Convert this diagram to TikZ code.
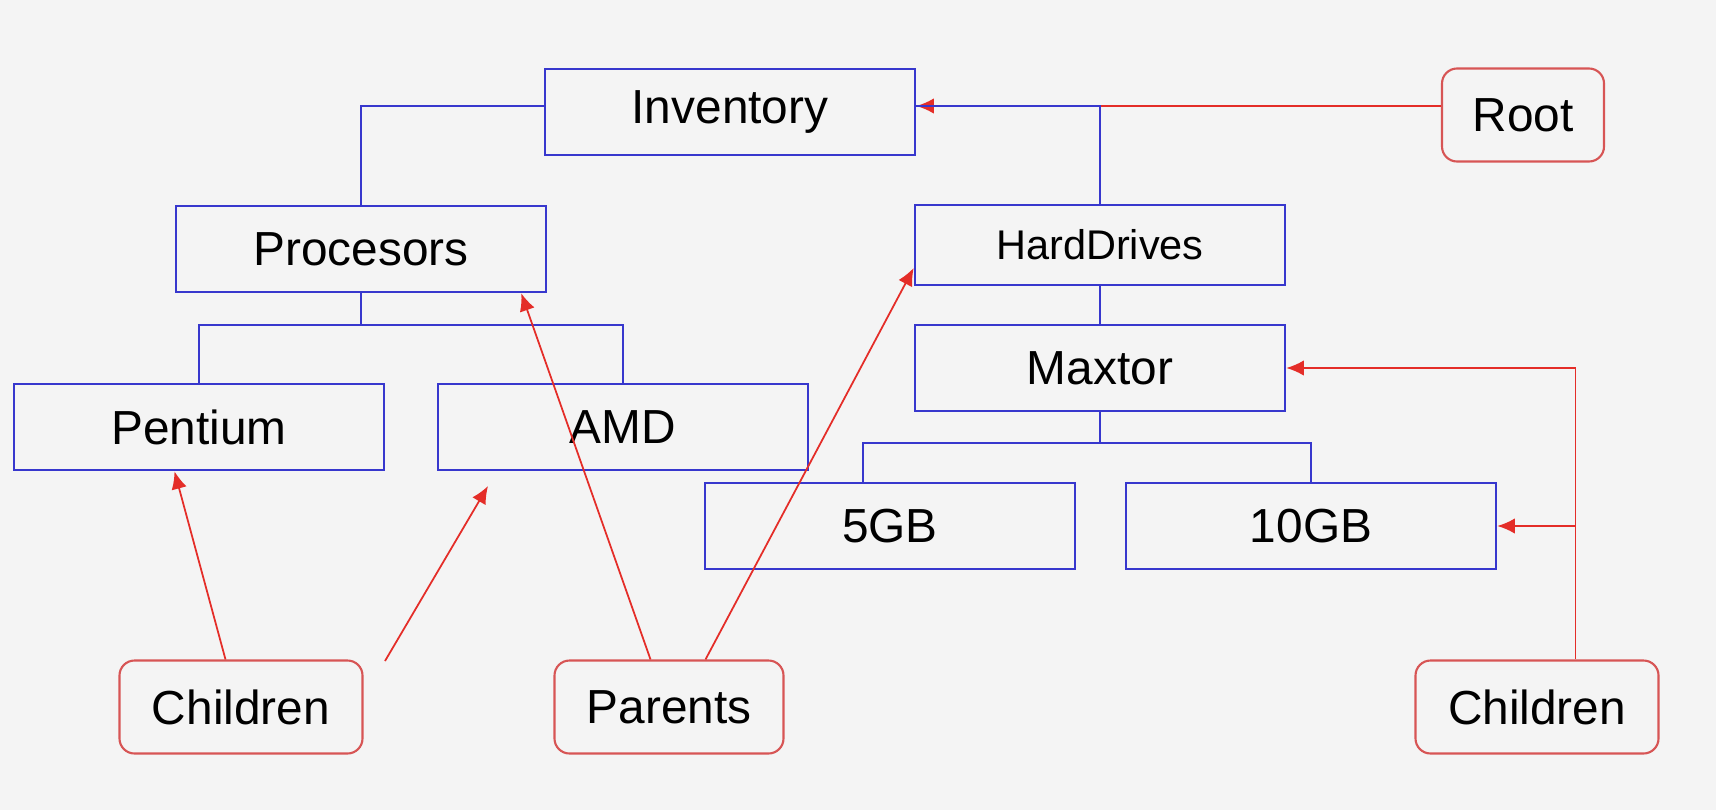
\documentclass[tikz,border=0pt]{standalone}
\usepackage{fontspec}
\setmainfont{Liberation Sans}
\usetikzlibrary{arrows.meta}
\definecolor{treeblue}{RGB}{55,55,205}
\definecolor{notered}{RGB}{228,45,40}
\definecolor{notebox}{RGB}{215,85,85}
\definecolor{paper}{RGB}{244,244,244}
\tikzset{
  treebox/.style={draw=treeblue, line width=0.75pt, minimum width=3.7cm, minimum height=0.86cm, font=\fontsize{13.6}{16}\selectfont},
  notebox/.style={draw=notebox, line width=0.6pt, rounded corners=0.15cm, minimum height=0.93cm, font=\fontsize{13.6}{16}\selectfont},
  tree/.style={draw=treeblue, line width=0.75pt},
  note/.style={draw=notered, line width=0.5pt}
}
\begin{document}
\begin{tikzpicture}[>={Latex[length=5pt,width=4.4pt]}, x=0.1mm, y=-0.1mm]
\fill[paper] (0,0) rectangle (1716,810);
\useasboundingbox (0,0) rectangle (1716,810);

% tree
\foreach \n/\x/\y/\t in {inv/730/112/Inventory, proc/361/249/Procesors, max/1100/368/Maxtor,
    pent/199/427/Pentium, amd/623/427/AMD, gfive/890/526/5GB, gten/1311/526/10GB}
{
    \node[treebox] (\n) at (\x,\y) {\t};
}
\node[treebox, minimum height=0.8cm, font=\fontsize{11.8}{14}\selectfont] (hd) at (1100,245) {HardDrives};

% labels
\node[notebox, minimum width=1.62cm] (root) at (1523,115) {Root};
\node[notebox, minimum width=2.43cm] (chl) at (241,707) {Children};
\node[notebox, minimum width=2.29cm] (par) at (669,707) {Parents};
\node[notebox, minimum width=2.43cm] (chr) at (1537,707) {Children};

\draw[note,->] (root.west |- 0,106) -- (inv.east |- 0,106);

\draw[tree] (inv.west |- 0,106) -| (proc.north);
\draw[tree] (inv.east |- 0,106) -| (hd.north);
\coordinate (forkp) at (361,325);
\draw[tree] (proc.south) -- (forkp);
\draw[tree] (pent.north) |- (forkp) -| (amd.north);
\draw[tree] (hd.south) -- (max.north);
\coordinate (forkm) at (1100,443);
\coordinate (gfivetop) at (863,483);
\draw[tree] (max.south) -- (forkm);
\draw[tree] (gfivetop) |- (forkm) -| (gten.north);

% pointers
\draw[note,->] ([xshift=-1.55mm]chl.north) -- ([xshift=-2.45mm]pent.south);
\coordinate (freea) at (385,661);  \coordinate (freeb) at (488,486);
\draw[note,->] (freea) -- (freeb);
\draw[note,->] ([xshift=-1.85mm]par.north) -- ([xshift=-2.6mm]proc.south east);
\draw[note,->] ([xshift=3.65mm]par.north) -- ([yshift=-2.3mm]hd.west);
\coordinate (spine) at ([xshift=3.85mm]chr.north);
\draw[note,->] (spine) |- (max.east);
\draw[note,->] (spine |- gten.east) -- (gten.east);

\end{tikzpicture}
\end{document}
